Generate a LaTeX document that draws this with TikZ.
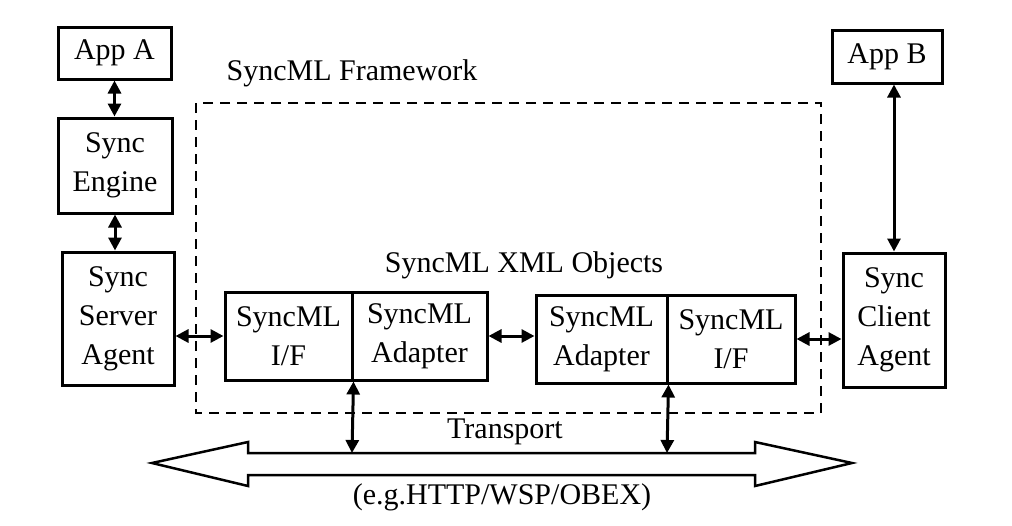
\documentclass[tikz,border=0pt]{standalone}
\usepackage{fontspec}
\setmainfont{Liberation Serif}
\usetikzlibrary{arrows.meta}
\begin{document}
\begin{tikzpicture}[x=1pt,y=-1pt,
  box/.style={draw,line width=3pt,inner sep=0pt,align=center,
    font=\fontsize{30}{39}\selectfont},
  lbl/.style={inner sep=0pt,font=\fontsize{30}{39}\selectfont},
  arr/.style={line width=3pt,{Triangle[length=13pt,width=13pt]}-{Triangle[length=13pt,width=13pt]}},
  frame/.style={draw,line width=2.8pt,dash pattern=on 10pt off 7pt},
  bigarrow/.style={draw,line width=2.5pt,line join=miter}
]
\useasboundingbox (0,0) rectangle (1012,525);
% left column
\node[box,minimum width=113pt,minimum height=52pt] (appA) at (114.5,53) {App A};
\node[box,minimum width=114pt,minimum height=95pt] (engine) at (115,165.5) {Sync\\Engine};
\node[box,minimum width=112pt,minimum height=133pt] (server) at (118,318.5) {Sync\\Server\\Agent};
% right column
\node[box,minimum width=110pt,minimum height=53pt] (appB) at (887,56.5) {App B};
\node[box,minimum width=102pt,minimum height=134pt] (client) at (894,320) {Sync\\Client\\Agent};
% framework
\draw[frame] (196,103) rectangle (821,413);
\node[lbl] (fwlabel) at (352,73) {SyncML Framework};
\node[lbl] (xmllabel) at (524,265) {SyncML XML Objects};
% inner boxes
\node[box,minimum width=127pt,minimum height=88pt] (ifL) at (288.5,336) {SyncML\\I/F};
\node[box,minimum width=135pt,minimum height=88pt] (adL) at (419.5,336) {SyncML\\Adapter};
\node[box,minimum width=131pt,minimum height=88pt] (adR) at (601.5,339) {SyncML\\Adapter};
\node[box,minimum width=128pt,minimum height=88pt] (ifR) at (731,339) {SyncML\\I/F};
% transport arrow
\draw[bigarrow] (152,463) -- (248,442) -- (248,453) -- (755,453) -- (755,442)
  -- (852,463) -- (755,486) -- (755,475) -- (248,475) -- (248,486) -- cycle;
\coordinate (t1) at (352,453);
\coordinate (t2) at (667,453);
\node[lbl] (transport) at (505,432) {Transport};
\node[lbl] (proto) at (502,497) {(e.g.HTTP/WSP/OBEX)};
% connectors
\draw[arr] (appA.south) -- (appA.south |- engine.north);
\draw[arr] (engine.south) -- (engine.south |- server.north);
\draw[arr] (client.north |- appB.south) -- (client.north);
\draw[arr] (ifL.west -| server.east) -- (ifL.west);
\draw[arr] (adL.east) -- (adL.east -| adR.west);
\draw[arr] (ifR.east) -- (ifR.east -| client.west);
\draw[arr] (ifL.south east) -- (t1);
\draw[arr] (adR.south east) -- (t2);
\end{tikzpicture}
\end{document}
